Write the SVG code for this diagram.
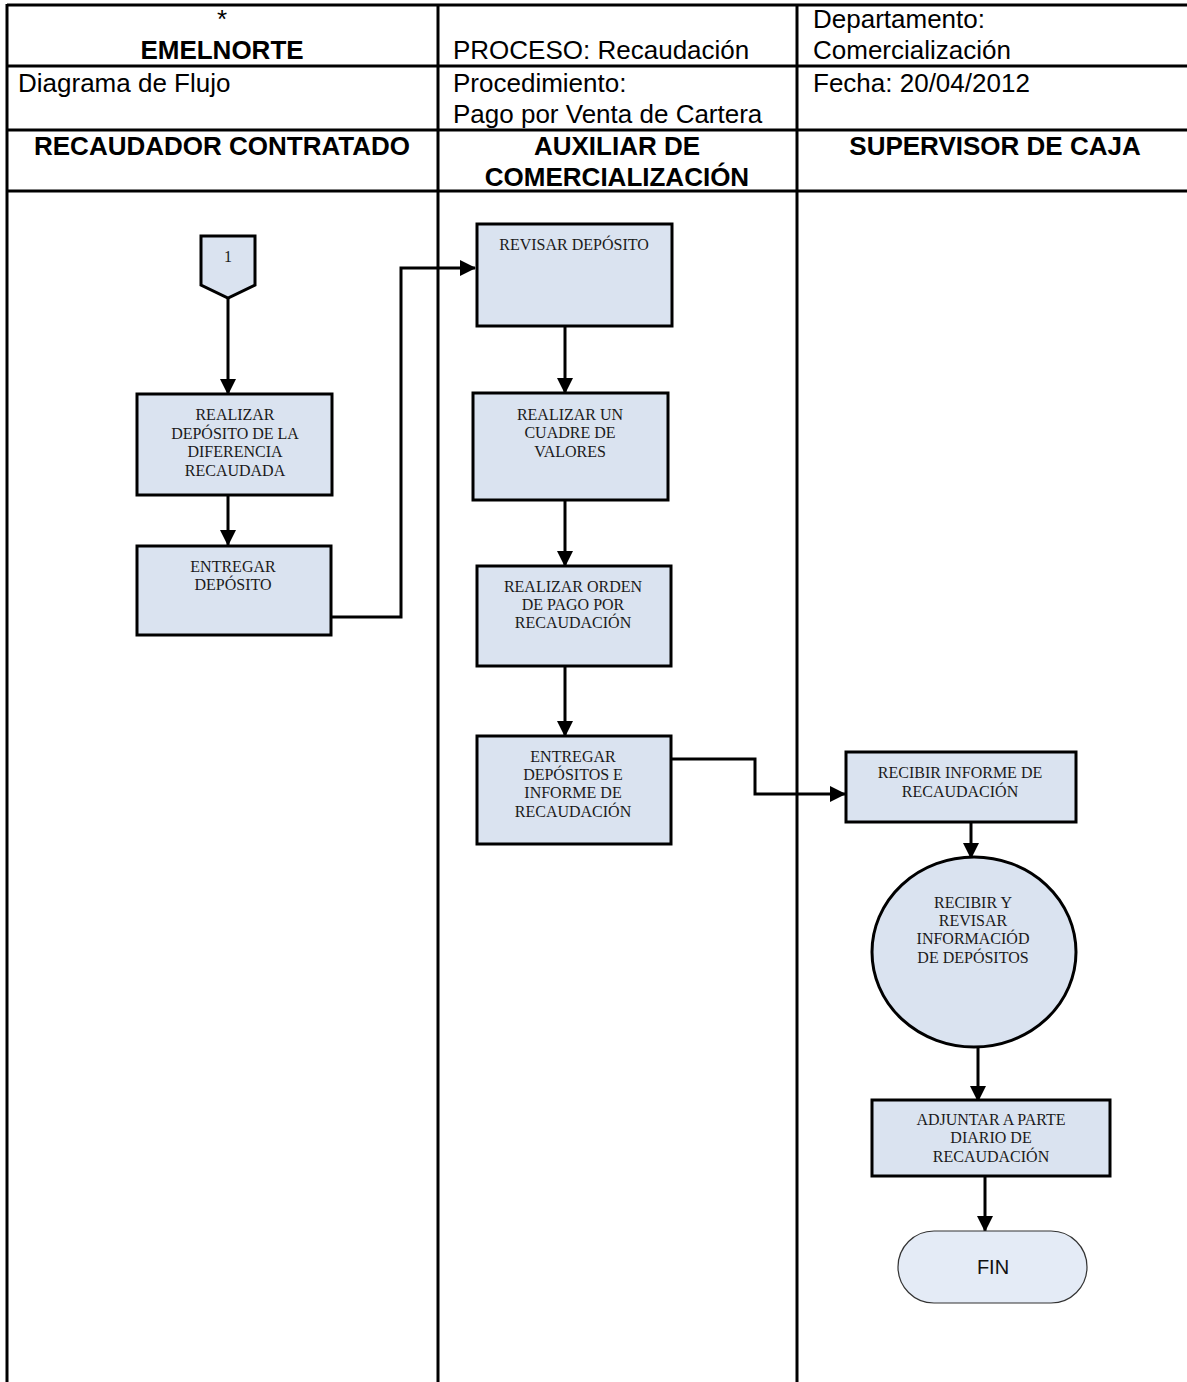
<svg xmlns="http://www.w3.org/2000/svg" width="1187" height="1382" viewBox="0 0 1187 1382">
  <style>
    .grid { stroke: #000; stroke-width: 3; fill: none; }
    .hdr { font-family: "Liberation Sans", Arial, sans-serif; font-size: 26px; fill: #000; }
    .hdrb { font-family: "Liberation Sans", Arial, sans-serif; font-size: 26px; font-weight: bold; fill: #000; text-anchor: middle; }
    .box { fill: #dae3f0; stroke: #000; stroke-width: 3; }
    .lbl { font-family: "Liberation Serif", "Times New Roman", serif; font-size: 16px; fill: #1a1a1a; text-anchor: middle; }
    .conn { stroke: #000; stroke-width: 3; fill: none; marker-end: url(#arrow); }
  </style>
  <defs>
    <marker id="arrow" markerUnits="userSpaceOnUse" markerWidth="16" markerHeight="16" viewBox="0 0 16 16" refX="15" refY="8" orient="auto">
      <path d="M0,0 L16,8 L0,16 z" fill="#000"/>
    </marker>
  </defs>

  <rect x="0" y="0" width="1187" height="1382" fill="#fff"/>

  <!-- header table and swimlane grid -->
  <g id="table">
    <line class="grid" x1="7" y1="5" x2="1187" y2="5"/>
    <line class="grid" x1="7" y1="66" x2="1187" y2="66"/>
    <line class="grid" x1="7" y1="130" x2="1187" y2="130"/>
    <line class="grid" x1="7" y1="191" x2="1187" y2="191"/>
    <line class="grid" x1="7" y1="4" x2="7" y2="1382"/>
    <line class="grid" x1="438" y1="4" x2="438" y2="1382"/>
    <line class="grid" x1="797" y1="4" x2="797" y2="1382"/>

    <text class="hdr" x="222" y="28" text-anchor="middle">*</text>
    <text class="hdrb" x="222" y="59">EMELNORTE</text>
    <text class="hdr" x="453" y="59">PROCESO: Recaudación</text>
    <text class="hdr" x="813" y="28">Departamento:</text>
    <text class="hdr" x="813" y="59">Comercialización</text>
    <text class="hdr" x="18" y="92">Diagrama de Flujo</text>
    <text class="hdr" x="453" y="92">Procedimiento:</text>
    <text class="hdr" x="453" y="123">Pago por Venta de Cartera</text>
    <text class="hdr" x="813" y="92">Fecha: 20/04/2012</text>
    <text class="hdrb" x="222" y="155">RECAUDADOR CONTRATADO</text>
    <text class="hdrb" x="617" y="155">AUXILIAR DE</text>
    <text class="hdrb" x="617" y="186">COMERCIALIZACIÓN</text>
    <text class="hdrb" x="995" y="155">SUPERVISOR DE CAJA</text>
  </g>

  <!-- connectors -->
  <g id="connectors">
    <line class="conn" x1="228" y1="298" x2="228" y2="394"/>
    <line class="conn" x1="228" y1="495" x2="228" y2="545"/>
    <polyline class="conn" points="331,617 401,617 401,268 475,268"/>
    <line class="conn" x1="565" y1="326" x2="565" y2="393"/>
    <line class="conn" x1="565" y1="500" x2="565" y2="566"/>
    <line class="conn" x1="565" y1="666" x2="565" y2="736"/>
    <polyline class="conn" points="668,759 755,759 755,794 845,794"/>
    <line class="conn" x1="971" y1="814" x2="971" y2="858"/>
    <line class="conn" x1="978" y1="1032" x2="978" y2="1101"/>
    <line class="conn" x1="985" y1="1168" x2="985" y2="1231"/>
  </g>

  <!-- off-page connector 1 -->
  <g id="n-connector-1">
    <polygon class="box" points="201,236 255,236 255,285 228,298 201,285"/>
    <text class="lbl" x="228" y="262" font-size="15">1</text>
  </g>

  <g id="n-realizar-deposito">
    <rect class="box" x="137" y="394" width="195" height="101"/>
    <text class="lbl" x="235" y="420">REALIZAR</text>
    <text class="lbl" x="235" y="439">DEPÓSITO DE LA</text>
    <text class="lbl" x="235" y="457">DIFERENCIA</text>
    <text class="lbl" x="235" y="476">RECAUDADA</text>
  </g>

  <g id="n-entregar-deposito">
    <rect class="box" x="137" y="546" width="194" height="89"/>
    <text class="lbl" x="233" y="572">ENTREGAR</text>
    <text class="lbl" x="233" y="590">DEPÓSITO</text>
  </g>

  <g id="n-revisar-deposito">
    <rect class="box" x="477" y="224" width="195" height="102"/>
    <text class="lbl" x="574" y="250">REVISAR DEPÓSITO</text>
  </g>

  <g id="n-cuadre-valores">
    <rect class="box" x="473" y="393" width="195" height="107"/>
    <text class="lbl" x="570" y="420">REALIZAR UN</text>
    <text class="lbl" x="570" y="438">CUADRE DE</text>
    <text class="lbl" x="570" y="457">VALORES</text>
  </g>

  <g id="n-orden-pago">
    <rect class="box" x="477" y="566" width="194" height="100"/>
    <text class="lbl" x="573" y="592">REALIZAR ORDEN</text>
    <text class="lbl" x="573" y="610">DE PAGO POR</text>
    <text class="lbl" x="573" y="628">RECAUDACIÓN</text>
  </g>

  <g id="n-entregar-depositos">
    <rect class="box" x="477" y="736" width="194" height="108"/>
    <text class="lbl" x="573" y="762">ENTREGAR</text>
    <text class="lbl" x="573" y="780">DEPÓSITOS E</text>
    <text class="lbl" x="573" y="798">INFORME DE</text>
    <text class="lbl" x="573" y="817">RECAUDACIÓN</text>
  </g>

  <g id="n-recibir-informe">
    <rect class="box" x="846" y="752" width="230" height="70"/>
    <text class="lbl" x="960" y="778">RECIBIR INFORME DE</text>
    <text class="lbl" x="960" y="797">RECAUDACIÓN</text>
  </g>

  <g id="n-revisar-informacion">
    <ellipse class="box" cx="974" cy="952" rx="102" ry="95"/>
    <text class="lbl" x="973" y="908">RECIBIR Y</text>
    <text class="lbl" x="973" y="926">REVISAR</text>
    <text class="lbl" x="973" y="944">INFORMACIÓD</text>
    <text class="lbl" x="973" y="963">DE DEPÓSITOS</text>
  </g>

  <g id="n-adjuntar-parte">
    <rect class="box" x="872" y="1100" width="238" height="76"/>
    <text class="lbl" x="991" y="1125">ADJUNTAR A PARTE</text>
    <text class="lbl" x="991" y="1143">DIARIO DE</text>
    <text class="lbl" x="991" y="1162">RECAUDACIÓN</text>
  </g>

  <g id="n-fin">
    <rect x="898" y="1231" width="189" height="72" rx="36" ry="36" fill="#e4ebf6" stroke="#333" stroke-width="1.2"/>
    <text x="993" y="1274" text-anchor="middle" font-family="Liberation Sans, Arial, sans-serif" font-size="20" fill="#111">FIN</text>
  </g>
</svg>
